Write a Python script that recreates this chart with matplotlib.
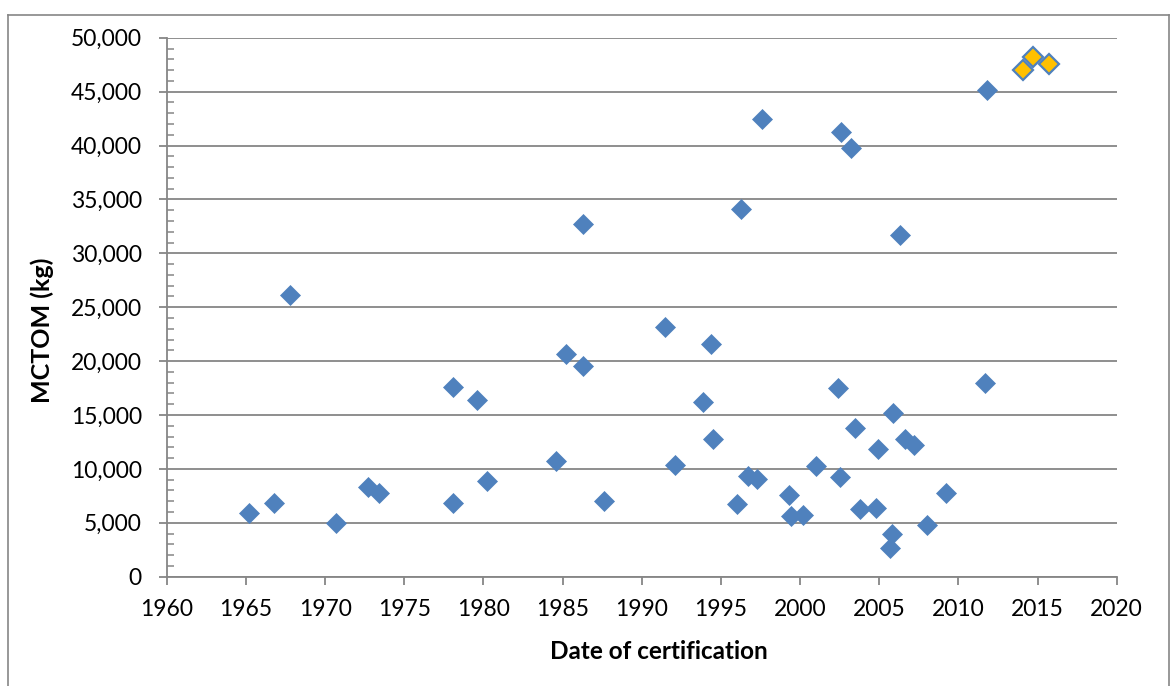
import matplotlib
matplotlib.use("Agg")
import matplotlib.pyplot as plt
from matplotlib.lines import Line2D
from matplotlib.ticker import FuncFormatter, MultipleLocator
import numpy as np

# certification year vs MCTOM (kg)
cert_year = [
    1965.2, 1966.8, 1967.8, 1970.7, 1972.7, 1973.4, 1978.1, 1978.1, 1979.6, 1980.2,
    1984.6, 1985.2, 1986.3, 1986.3, 1987.6, 1991.5, 1992.1, 1993.9, 1994.4, 1994.5,
    1996.0, 1996.7, 1997.3, 1996.3, 1997.6, 1999.3, 1999.4, 2000.2, 2001.0, 2002.4,
    2002.5, 2003.5, 2003.8, 2004.9, 2004.8, 2005.8, 2005.7, 2005.9, 2006.6, 2007.2,
    2008.0, 2009.2, 2011.7, 2002.6, 2003.2, 2006.3, 2011.8,
]
mctom_kg = [
    5900, 6800, 26100, 4950, 8350, 7750, 6800, 17600, 16350, 8880,
    10760, 20660, 19550, 32700, 7050, 23150, 10360, 16250, 21600, 12750,
    6750, 9300, 9080, 34150, 42450, 7580, 5630, 5720, 10270, 17480,
    9280, 13770, 6280, 11850, 6350, 3960, 2630, 15220, 12750, 12220,
    4800, 7800, 18000, 41300, 39800, 31700, 45150,
]

# highlighted (newest) types
new_year = [2014.1, 2014.7, 2015.7]
new_mctom_kg = [47000, 48250, 47560]

BLUE = "#4F81BD"
YELLOW = "#FFC000"
GREY = "#868686"

plt.rcParams["font.family"] = ["Lato", "DejaVu Sans"]

fig = plt.figure(figsize=(11.71, 6.86), dpi=100)
ax = fig.add_axes([0.1424, 0.1593, 0.8112, 0.7857])

ax.plot(cert_year, mctom_kg, linestyle="none", marker="D", markersize=10.5,
        color=BLUE, markeredgecolor=BLUE, markeredgewidth=0.5, zorder=3, clip_on=False)
ax.plot(new_year, new_mctom_kg, linestyle="none", marker="D", markersize=10,
        markerfacecolor=YELLOW, markeredgecolor=BLUE, markeredgewidth=1.6, zorder=4, clip_on=False)

ax.set_xlim(1960, 2020)
ax.set_ylim(0, 50000)
ax.xaxis.set_major_locator(MultipleLocator(5))
ax.yaxis.set_major_locator(MultipleLocator(5000))
ax.yaxis.set_minor_locator(MultipleLocator(1000))
ax.yaxis.set_major_formatter(FuncFormatter(lambda v, _: f"{int(v):,}"))

ax.grid(True, axis="y", which="major", color=GREY, linewidth=1.3)
ax.set_axisbelow(True)

for side in ("top", "right"):
    ax.spines[side].set_visible(False)
for side in ("left", "bottom"):
    ax.spines[side].set_color(GREY)
    ax.spines[side].set_linewidth(1.3)

ax.tick_params(axis="both", which="major", direction="out", length=6, width=1.3,
               color=GREY, labelsize=16.5, labelcolor="black")
ax.tick_params(axis="y", which="major", pad=12)
ax.tick_params(axis="x", which="major", pad=10)
ax.tick_params(axis="y", which="minor", direction="in", length=5, width=1.1, color=GREY)

ax.set_xlabel("Date of certification", fontsize=17.5, fontweight="bold")
ax.set_ylabel("MCTOM (kg)", fontsize=18, fontweight="bold")
ax.xaxis.set_label_coords(0.518, -0.117)
ax.yaxis.set_label_coords(-0.119, 0.458)

# outer chart border
fig.add_artist(Line2D([8 / 1171, 8 / 1171], [0, 1 - 15 / 686], color=GREY, linewidth=1.2))
fig.add_artist(Line2D([8 / 1171, 1169 / 1171], [1 - 15 / 686, 1 - 15 / 686], color=GREY, linewidth=1.2))
fig.add_artist(Line2D([1169 / 1171, 1169 / 1171], [0, 1 - 15 / 686], color=GREY, linewidth=1.2))

fig.savefig("out.png", dpi=100, facecolor="white")
